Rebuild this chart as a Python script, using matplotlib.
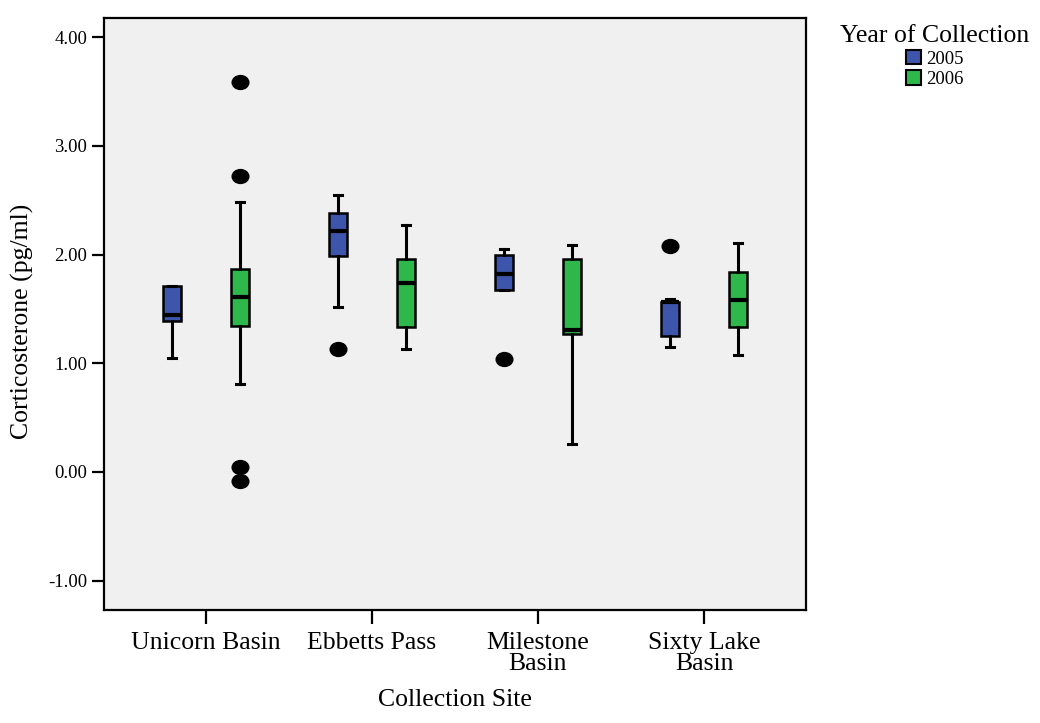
import numpy as np
import matplotlib
matplotlib.use("Agg")
import matplotlib.pyplot as plt
from matplotlib.markers import MarkerStyle
from matplotlib.transforms import Affine2D
from matplotlib.patches import Patch

plt.rcParams['font.family'] = ['Liberation Serif', 'DejaVu Serif']

# Collection sites and years
sites = ['Unicorn Basin', 'Ebbetts Pass', 'Milestone\nBasin', 'Sixty Lake\nBasin']
years = ['2005', '2006']

# Box summaries for 2005
q1_2005 = [1.39, 1.99, 1.67, 1.25]
med_2005 = [1.44, 2.22, 1.82, 1.56]
q3_2005 = [1.71, 2.38, 2.00, 1.56]
lo_2005 = [1.05, 1.52, 1.67, 1.15]
hi_2005 = [1.71, 2.55, 2.05, 1.59]
out_2005 = [[], [1.13], [1.04], [2.08]]

# Box summaries for 2006
q1_2006 = [1.34, 1.33, 1.27, 1.33]
med_2006 = [1.61, 1.74, 1.31, 1.58]
q3_2006 = [1.87, 1.96, 1.96, 1.84]
lo_2006 = [0.81, 1.13, 0.26, 1.08]
hi_2006 = [2.48, 2.27, 2.09, 2.11]
out_2006 = [[3.59, 2.72, 0.05, -0.08], [], [], []]

yticks = [-1, 0, 1, 2, 3, 4]

BLUE = '#3d56ab'
GREEN = '#2eb84c'
BG = '#f0f0f0'


def make_stats(q1, med, q3, lo, hi, out):
    return [dict(q1=a, med=b, q3=c, whislo=d, whishi=e, fliers=np.array(f))
            for a, b, c, d, e, f in zip(q1, med, q3, lo, hi, out)]


fig = plt.figure(figsize=(10.4, 7.23), dpi=100)
ax = fig.add_axes([104 / 1040, 1 - 610 / 723, 702 / 1040, 592 / 723])
ax.set_facecolor(BG)

dot = MarkerStyle('o', transform=Affine2D().scale(1.2, 1.0))
x = np.arange(len(sites))
offset = 0.205

for stats, pos, color in [
    (make_stats(q1_2005, med_2005, q3_2005, lo_2005, hi_2005, out_2005), x - offset, BLUE),
    (make_stats(q1_2006, med_2006, q3_2006, lo_2006, hi_2006, out_2006), x + offset, GREEN),
]:
    ax.bxp(stats, positions=pos, widths=0.107, capwidths=0.05,
           patch_artist=True, manage_ticks=False,
           boxprops=dict(facecolor=color, edgecolor='black', linewidth=1.8),
           medianprops=dict(color='black', linewidth=3),
           whiskerprops=dict(color='black', linewidth=2.2),
           capprops=dict(color='black', linewidth=2.2),
           flierprops=dict(marker=dot, markerfacecolor='black',
                           markeredgecolor='black', markersize=10))

ax.set_xlim(-0.614, 3.614)
ax.set_ylim(-1.27, 4.177)
ax.set_xticks(x)
ax.set_xticklabels(sites, fontsize=18.5, linespacing=0.95)
ax.set_yticks(yticks)
ax.set_yticklabels([f'{v:.2f}' for v in yticks], fontsize=13.5)
ax.tick_params(axis='x', direction='out', length=10, width=1.6, pad=6)
ax.tick_params(axis='y', direction='out', length=9, width=1.6, pad=3)
for s in ax.spines.values():
    s.set_linewidth(1.6)
    s.set_color('black')

ax.set_ylabel('Corticosterone (pg/ml)', fontsize=18.5)
ax.yaxis.set_label_coords(-0.1, 0.487)
ax.set_xlabel('Collection Site', fontsize=18.5)
ax.xaxis.set_label_coords(0.5, -0.133)

handles = [Patch(facecolor=BLUE, edgecolor='black', linewidth=1.5),
           Patch(facecolor=GREEN, edgecolor='black', linewidth=1.5)]
fig.legend(handles, years, title='Year of Collection', loc='upper center',
           bbox_to_anchor=(935 / 1040, 1 - 12 / 723), frameon=False,
           fontsize=13.5, title_fontsize=18.5, handlelength=0.8,
           handleheight=0.8, handletextpad=0.3, labelspacing=0.15,
           borderpad=0.2)

fig.savefig('out.png', dpi=100)
